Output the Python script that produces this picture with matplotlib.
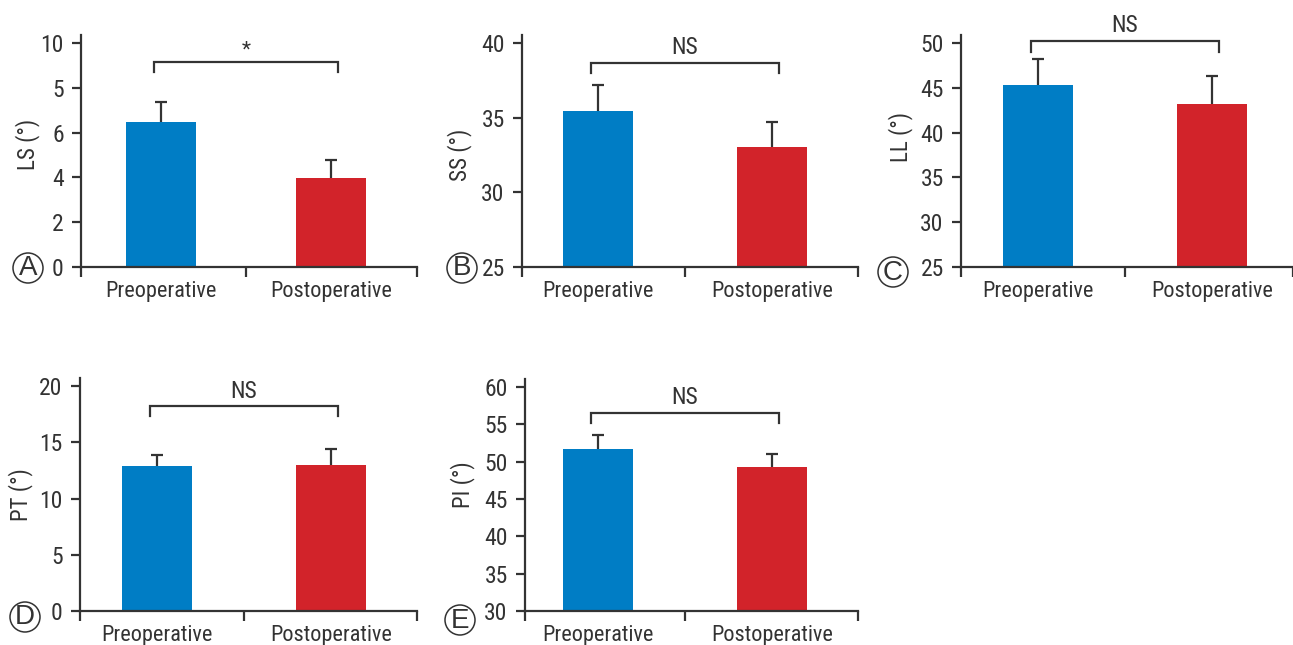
import matplotlib
matplotlib.use("Agg")
import matplotlib.pyplot as plt
from matplotlib.patches import Ellipse

plt.rcParams['font.family'] = ['Liberation Sans Narrow', 'Roboto Condensed', 'Liberation Sans', 'DejaVu Sans']

categories = ['Preoperative', 'Postoperative']
panel_letters = ['A', 'B', 'C', 'D', 'E']
ylabels = ['LS (°)', 'SS (°)', 'LL (°)', 'PT (°)', 'PI (°)']
means = [
    [6.46, 3.96],
    [35.43, 33.02],
    [45.31, 43.18],
    [12.90, 12.99],
    [51.66, 49.26],
]
errors = [
    [0.89, 0.82],
    [1.77, 1.69],
    [2.87, 3.14],
    [0.98, 1.42],
    [1.95, 1.77],
]
yticks = [
    [0, 2, 4, 6, 8, 10],
    [25, 30, 35, 40],
    [25, 30, 35, 40, 45, 50],
    [0, 5, 10, 15, 20],
    [30, 35, 40, 45, 50, 55, 60],
]
ytick_labels = [
    ['0', '2', '4', '6', '5', '10'],
    ['25', '30', '35', '40'],
    ['25', '30', '35', '40', '45', '50'],
    ['0', '5', '10', '15', '20'],
    ['30', '35', '40', '45', '50', '55', '60'],
]
sig_text = ['*', 'NS', 'NS', 'NS', 'NS']
bracket_top = [9.14, 38.69, 50.24, 18.22, 56.55]
bracket_end = [8.70, 38.02, 49.00, 17.29, 55.21]

colors = ['#007DC5', '#D2232A']
dark = '#333333'

W, H = 1293, 645
# layout in pixels: left spine x, right end x, bottom y, top tick y, bar centres,
# ylabel (right edge x, centre y), circled letter centre
layout = [
    dict(x0=81, x1=417, yb=267, yt=43, c=(161, 331), lab=(40, 144), circ=(28, 268)),
    dict(x0=522, x1=858, yb=267, yt=43, c=(598, 772), lab=(472, 155), circ=(462, 268)),
    dict(x0=961, x1=1293, yb=267, yt=43, c=(1038, 1212), lab=(913, 137), circ=(893, 272)),
    dict(x0=80, x1=417, yb=611, yt=386, c=(157, 331), lab=(33, 495), circ=(25, 617)),
    dict(x0=525, x1=858, yb=611, yt=387, c=(598, 772), lab=(475, 485), circ=(460, 620)),
]

fig = plt.figure(figsize=(W / 100, H / 100), dpi=100)
fig.patch.set_facecolor('white')

for i in range(5):
    L = layout[i]
    ymin, ymax = yticks[i][0], yticks[i][-1]
    ppu = (L['yb'] - L['yt']) / (ymax - ymin)
    extra = 8
    ytop_px = L['yt'] - extra
    ax = fig.add_axes([L['x0'] / W, 1 - L['yb'] / H, (L['x1'] - L['x0']) / W,
                       (L['yb'] - ytop_px) / H])
    c0, c1 = L['c']
    span = c1 - c0
    xlim = ((L['x0'] - c0) / span, (L['x1'] - c0) / span)
    ax.set_xlim(*xlim)
    ax.set_ylim(ymin, ymax + extra / ppu)
    width = 70 / span
    x = [0, 1]
    ax.bar(x, means[i], width=width, color=colors, zorder=2)
    ax.errorbar(x, means[i], yerr=errors[i], fmt='none', ecolor=dark,
                elinewidth=1.6, capsize=4.5, capthick=1.6, zorder=1)
    # significance bracket
    bx0, bx1 = -0.04, 1.04
    ax.plot([bx0, bx0, bx1, bx1], [bracket_end[i], bracket_top[i], bracket_top[i], bracket_end[i]],
            color=dark, lw=1.6, clip_on=False, solid_joinstyle='miter')
    is_ns = sig_text[i] == 'NS'
    ax.annotate(sig_text[i], xy=(0.5, bracket_top[i]), xytext=(0, 15 if is_ns else 12),
                textcoords='offset pixels', ha='center', va='center',
                fontsize=17 if is_ns else 15, color=dark)
    # axes styling
    for s in ['top', 'right']:
        ax.spines[s].set_visible(False)
    for s in ['left', 'bottom']:
        ax.spines[s].set_linewidth(1.6)
        ax.spines[s].set_color(dark)
    ax.set_yticks(yticks[i])
    ax.set_yticklabels(ytick_labels[i])
    ax.tick_params(axis='y', length=6.5, width=1.6, color=dark, labelsize=17, labelcolor=dark, pad=6)
    ax.set_xticks([xlim[0], 0.5, xlim[1]])
    ax.set_xticklabels(['', '', ''])
    ax.tick_params(axis='x', which='major', length=7.5, width=1.6, color=dark)
    ax.set_xticks([0, 1], minor=True)
    ax.set_xticklabels(categories, minor=True)
    ax.tick_params(axis='x', which='minor', length=0, labelsize=16, labelcolor=dark, pad=10)
    ax.set_ylabel(ylabels[i], fontsize=16.5, color=dark)
    lx, ly = L['lab']
    ax.yaxis.set_label_coords(lx / W, 1 - ly / H, transform=fig.transFigure)
    # circled panel letter
    cx, cy = L['circ']
    fig.patches.append(Ellipse((cx / W, 1 - cy / H), 30 / W, 30 / H, transform=fig.transFigure,
                               facecolor='white', edgecolor=dark, lw=1.1, zorder=5))
    fig.text(cx / W, 1 - cy / H - 0.5 / H, panel_letters[i], ha='center', va='center', fontsize=20,
             color=dark, zorder=6, family=['Liberation Sans', 'DejaVu Sans'])

fig.savefig('out.png', dpi=100, facecolor='white')
